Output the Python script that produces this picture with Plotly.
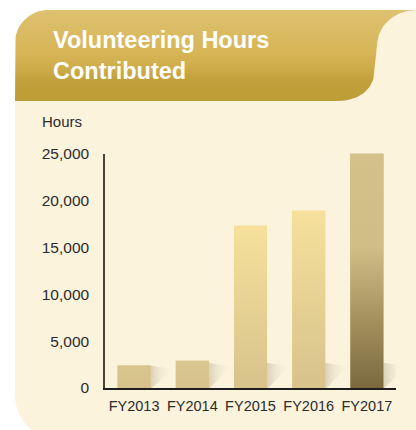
import plotly.graph_objects as go

# ---- data -------------------------------------------------------------
categories = ["FY2013", "FY2014", "FY2015", "FY2016", "FY2017"]
hours = [2400, 2900, 17300, 18900, 25000]
y_ticks = [0, 5000, 10000, 15000, 20000, 25000]
y_tick_labels = ["0", "5,000", "10,000", "15,000", "20,000", "25,000"]
title_lines = ["Volunteering Hours", "Contributed"]
y_axis_title = "Hours"

# vertical colour ramps for each bar face (0 = base, 1 = top)
bar_scales = [
    [[0, "#D5C189"], [1, "#D9C68E"]],
    [[0, "#D5C189"], [1, "#DAC78F"]],
    [[0, "#D7C38B"], [1, "#F6E09C"]],
    [[0, "#D7C38B"], [1, "#F6E09C"]],
    [[0, "#7B683E"], [0.3, "#A6925F"], [0.6, "#D1BD86"], [1, "#D4C089"]],
]
bar_base_colors = ["#D7C48C", "#D7C48C", "#E6D294", "#E6D294", "#B9A572"]

W, H = 416, 430
BAR_W = 0.567
SHADOW_W = 0.38
SHADOW_H = 2700

NARROW = "Liberation Sans Narrow, Arial Narrow, Liberation Sans, Arial, sans-serif"
BOLD = "Liberation Sans, Arial, Helvetica, sans-serif"
CREAM = "#FCF3DD"


def pxx(x):
    return x / W


def pxy(y):
    return 1 - y / H


def bezier(p0, p1, p2, p3, n=24):
    pts = []
    for i in range(1, n + 1):
        t = i / n
        a, b, c, d = (1 - t) ** 3, 3 * (1 - t) ** 2 * t, 3 * (1 - t) * t ** 2, t ** 3
        pts.append((a * p0[0] + b * p1[0] + c * p2[0] + d * p3[0],
                    a * p0[1] + b * p1[1] + c * p2[1] + d * p3[1]))
    return pts


# header band outline (pixel space, y downward)
hdr = [(15, 101), (15, 43)]
hdr += bezier((15, 43), (15, 24.8), (29.8, 10), (48, 10))
hdr += [(416, 10)]
hdr += bezier((416, 10), (396, 10), (378, 24), (377, 45))
hdr += [(374.5, 72)]
hdr += bezier((374.5, 72), (373.5, 90), (358, 101), (338, 101))
hdr += [(15, 101)]

fig = go.Figure()

# header band with vertical gold gradient on a pixel-space helper axis
fig.add_trace(go.Scatter(
    x=[p[0] for p in hdr], y=[H - p[1] for p in hdr],
    mode="lines", line=dict(width=0), fill="toself",
    fillgradient=dict(type="vertical", colorscale=[
        [0, "#BE9C36"], [0.22, "#C19F3A"], [0.36, "#CEAC4A"],
        [0.55, "#D7B657"], [1, "#DEC171"]]),
    xaxis="x", yaxis="y", hoverinfo="skip", showlegend=False,
))

# bars
x_pos = list(range(len(categories)))
fig.add_trace(go.Bar(
    x=x_pos, y=hours, width=BAR_W, marker=dict(color=bar_base_colors, line=dict(width=0)),
    xaxis="x2", yaxis="y2", showlegend=False,
    hovertemplate="%{customdata}: %{y:,} hours<extra></extra>", customdata=categories,
))

for i, v in enumerate(hours):
    right = i + BAR_W / 2
    left = i - BAR_W / 2
    sh = min(v, SHADOW_H)
    # soft cast shadow to the right of the bar
    fig.add_trace(go.Scatter(
        x=[right, right, right + SHADOW_W, right + 0.02, right],
        y=[0, sh, sh - 400, 0, 0],
        mode="lines", line=dict(width=0), fill="toself",
        fillgradient=dict(type="horizontal", colorscale=[
            [0, "rgba(150,138,110,0.32)"], [0.45, "rgba(175,165,138,0.14)"],
            [1, "rgba(210,200,175,0)"]]),
        xaxis="x2", yaxis="y2", hoverinfo="skip", showlegend=False,
    ))
    # gradient face of the bar
    fig.add_trace(go.Scatter(
        x=[left, right, right, left, left], y=[0, 0, v, v, 0],
        mode="lines", line=dict(width=0), fill="toself",
        fillgradient=dict(type="vertical", colorscale=bar_scales[i]),
        xaxis="x2", yaxis="y2", hoverinfo="skip", showlegend=False,
    ))

# cream panel behind everything
panel = (
    f"M {pxx(15)},{pxy(43)} "
    f"C {pxx(15)},{pxy(24.8)} {pxx(29.8)},{pxy(10)} {pxx(48)},{pxy(10)} "
    f"L {pxx(416)},{pxy(10)} L {pxx(416)},{pxy(440)} L {pxx(60)},{pxy(440)} "
    f"C {pxx(35.2)},{pxy(440)} {pxx(15)},{pxy(419.8)} {pxx(15)},{pxy(395)} Z"
)

fig.update_layout(
    width=W, height=H,
    margin=dict(l=0, r=0, t=0, b=0, pad=0, autoexpand=False),
    paper_bgcolor="white", plot_bgcolor="rgba(0,0,0,0)",
    hovermode="closest",
    shapes=[dict(type="path", xref="paper", yref="paper", path=panel,
                 fillcolor=CREAM, line=dict(width=0), layer="below")],
    xaxis=dict(domain=[0, 1], range=[0, W], visible=False, fixedrange=True),
    yaxis=dict(domain=[0, 1], range=[0, H], visible=False, fixedrange=True),
    xaxis2=dict(
        domain=[pxx(105), pxx(396)], anchor="y2", range=[-0.5, 4.5],
        tickmode="array", tickvals=x_pos, ticktext=categories, tickangle=0,
        showgrid=False, zeroline=False, showline=True, linecolor="#1E1E1E", linewidth=2,
        ticks="", ticklabelstandoff=4,
        tickfont=dict(family=NARROW, size=14.5, color="#2B2B2B"), fixedrange=True,
    ),
    yaxis2=dict(
        domain=[pxy(388), pxy(153.5)], anchor="x2", range=[0, 25000],
        tickmode="array", tickvals=y_ticks, ticktext=y_tick_labels,
        showgrid=False, zeroline=False, showline=True, linecolor="#4A4438", linewidth=1.5,
        ticks="", ticklabelstandoff=11,
        tickfont=dict(family=NARROW, size=15.5, color="#2B2B2B"), fixedrange=True,
    ),
    annotations=[
        dict(text=title_lines[0], x=pxx(52), y=pxy(40), xref="paper", yref="paper",
             xanchor="left", yanchor="middle", showarrow=False, borderpad=0,
             font=dict(family=BOLD, size=23.5, color="white", weight="bold")),
        dict(text=title_lines[1], x=pxx(52), y=pxy(71), xref="paper", yref="paper",
             xanchor="left", yanchor="middle", showarrow=False, borderpad=0,
             font=dict(family=BOLD, size=23.5, color="white", weight="bold")),
        dict(text=y_axis_title, x=pxx(41), y=pxy(122), xref="paper", yref="paper",
             xanchor="left", yanchor="middle", showarrow=False, borderpad=0,
             font=dict(family=NARROW, size=15, color="#2B2B2B")),
    ],
)

fig.write_html("out.html", config={"displayModeBar": False})
